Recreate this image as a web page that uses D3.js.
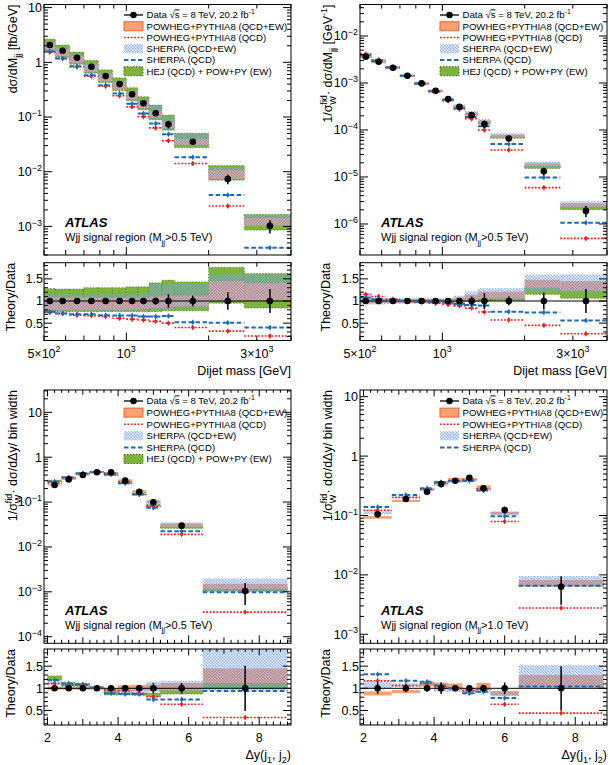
<!DOCTYPE html>
<html><head><meta charset="utf-8">
<script src="https://cdn.jsdelivr.net/npm/d3@7/dist/d3.min.js"></script>
<style>
body{margin:0;background:#fff}
svg text{font-family:"Liberation Sans",Arial,Helvetica,sans-serif;fill:#000}
</style></head>
<body><svg id="chart" width="610" height="765"></svg>
<script>
// ================= DATA =================
const mjjEdges = [500,550,620,700,790,890,1000,1100,1210,1350,1500,2000,2700,4000];
const dyEdges05 = [2.0,2.4,2.8,3.2,3.6,4.0,4.4,4.8,5.2,6.4,8.8];
const dyEdges10 = [2.0,2.8,3.6,4.0,4.4,4.8,5.2,5.6,6.4,8.8];

// Panel A: dsigma/dMjj [fb/GeV]  (model values are ratios Theory/Data)
const mjjData   = [2.07,1.63,1.21,0.83,0.56,0.40,0.26,0.178,0.117,0.0736,0.0353,0.00736,0.00102];
const mjjErr    = [0.06,0.06,0.06,0.06,0.06,0.06,0.06,0.07,0.08,0.16,0.12,0.2,0.27];
const mjjPowEwLo= [0.80,0.80,0.80,0.80,0.80,0.80,0.80,0.82,0.84,0.85,0.88,1.0,1.02];
const mjjPowEwHi= [1.08,1.08,1.08,1.08,1.08,1.08,1.08,1.08,1.10,1.12,1.12,1.45,1.40];
const mjjPowQcd = [0.74,0.72,0.68,0.67,0.65,0.61,0.59,0.57,0.54,0.50,0.40,0.32,0.21];
const mjjSheEwLo= [0.78,0.78,0.78,0.78,0.78,0.78,0.78,0.78,0.80,0.80,0.85,1.0,1.02];
const mjjSheEwHi= [1.15,1.15,1.15,1.15,1.15,1.15,1.15,1.18,1.38,1.38,1.40,1.60,1.60];
const mjjSheQcd = [0.76,0.72,0.70,0.70,0.68,0.67,0.67,0.65,0.65,0.66,0.52,0.51,0.40];
const mjjHejLo  = [0.76,0.76,0.76,0.76,0.76,0.76,0.76,0.76,0.76,0.78,0.78,0.95,0.84];
const mjjHejHi  = [1.28,1.27,1.27,1.30,1.30,1.30,1.32,1.32,1.41,1.47,1.43,1.76,1.62];

// Panel B: 1/sigma dsigma/dMjj [GeV^-1]
const nmjjData   = [3.62e-3,2.83e-3,2.11e-3,1.43e-3,9.8e-4,6.82e-4,4.54e-4,3.11e-4,2.07e-4,1.33e-4,6.59e-5,1.32e-5,1.9e-6];
const nmjjErr    = [0.05,0.05,0.05,0.05,0.05,0.05,0.05,0.06,0.10,0.18,0.10,0.19,0.27];
const nmjjPowEwLo= [0.95,0.95,0.95,0.95,0.95,0.95,0.95,0.97,1.00,1.06,1.06,1.30,1.24];
const nmjjPowEwHi= [1.05,1.05,1.05,1.05,1.05,1.05,1.05,1.08,1.14,1.21,1.21,1.48,1.45];
const nmjjPowQcd = [1.15,1.10,1.04,1.00,0.98,0.95,0.92,0.89,0.84,0.75,0.57,0.45,0.26];
const nmjjSheEwLo= [0.92,0.92,0.94,0.94,0.94,0.94,0.94,0.97,1.02,1.05,1.05,1.20,1.20];
const nmjjSheEwHi= [1.08,1.08,1.06,1.06,1.06,1.06,1.06,1.12,1.22,1.29,1.29,1.60,1.60];
const nmjjSheQcd = [1.08,1.04,1.01,1.00,0.99,0.98,0.96,0.93,0.91,0.90,0.76,0.74,0.56];
const nmjjHejLo  = [0.97,0.97,0.97,0.97,0.97,0.97,0.97,0.97,0.99,1.00,1.01,1.15,1.06];
const nmjjHejHi  = [1.03,1.03,1.03,1.03,1.03,1.03,1.03,1.03,1.05,1.08,1.09,1.32,1.24];

// Panel C: 1/sigma dsigma/dDy, Mjj>0.5 TeV
const dy05Data   = [0.24,0.32,0.40,0.46,0.46,0.30,0.17,0.099,0.0298,0.00104];
const dy05Err    = [0.04,0.04,0.04,0.04,0.04,0.04,0.05,0.12,0.12,0.51];
const dy05PowEwLo= [0.97,0.97,0.97,0.97,0.93,0.95,0.95,0.95,0.95,1.12];
const dy05PowEwHi= [1.04,1.04,1.04,1.04,1.00,1.07,1.08,1.08,1.12,1.45];
const dy05PowQcd = [1.11,1.07,1.07,1.01,0.96,0.94,0.89,0.81,0.64,0.34];
const dy05SheEwLo= [1.08,1.03,1.03,0.98,0.88,0.88,0.90,0.92,0.95,0.95];
const dy05SheEwHi= [1.20,1.12,1.12,1.05,0.97,0.97,1.02,1.15,1.17,1.90];
const dy05SheQcd = [1.19,1.11,1.09,1.01,0.89,0.87,0.87,0.75,0.75,0.94];
const dy05HejLo  = [1.19,1.06,1.06,0.99,0.85,0.85,0.84,0.81,0.87,1.00];
const dy05HejHi  = [1.28,1.13,1.11,1.04,0.93,0.90,0.89,0.89,0.96,1.13];

// Panel D: 1/sigma dsigma/dDy, Mjj>1.0 TeV
const dy10Data   = [0.105,0.19,0.25,0.34,0.385,0.43,0.287,0.124,0.0063];
const dy10Err    = [0.13,0.09,0.07,0.13,0.06,0.07,0.08,0.13,0.50];
const dy10PowEwLo= [0.84,0.89,1.04,0.98,0.96,0.90,0.96,0.84,1.00];
const dy10PowEwHi= [0.93,0.96,1.15,1.13,1.11,1.00,1.12,0.94,1.30];
const dy10PowQcd = [1.17,1.06,1.11,1.04,1.00,0.94,0.98,0.64,0.44];
const dy10SheEwLo= [1.00,1.04,1.05,0.92,0.92,0.86,0.90,0.82,1.03];
const dy10SheEwHi= [1.17,1.11,1.15,1.06,1.04,0.96,1.00,0.92,1.52];
const dy10SheQcd = [1.32,1.17,1.15,1.07,1.00,0.89,0.92,0.78,1.04];

// tick labels
const mjjTickVals = [500,1000,3000];
const mjjTickLabels = [["5×10","2"],["10","3"],["3×10","3"]];
const dyTickVals = [2,4,6,8];
const ratioTickVals = [0.5,1,1.5];
const ratioTickLabels = ["0.5","1","1.5"];

const legendLabels = ["Data", "POWHEG+PYTHIA8 (QCD+EW)", "POWHEG+PYTHIA8 (QCD)", "SHERPA (QCD+EW)", "SHERPA (QCD)", "HEJ (QCD) + POW+PY (EW)"];

// ================= STYLE =================
const C_ORANGE='#f8a072', C_ORANGE_EDGE='#e06a32', C_GREEN='#7fb43c', C_GREEN_EDGE='#3b6a12',
      C_RED='#f01a1a', C_BLUE='#1e6bb0', C_HATCH='#5a8ee6';
const FS_TICK=12.5, FS_TITLE=12.5, FS_LEG=9.6;

const svg = d3.select('#chart');
const defs = svg.append('defs');
const pat = defs.append('pattern').attr('id','hatch').attr('patternUnits','userSpaceOnUse').attr('width',3).attr('height',3);
pat.append('rect').attr('width',3).attr('height',3).attr('fill','#d4e2f8').attr('fill-opacity',0.15);
pat.append('rect').attr('x',0).attr('y',0).attr('width',1.5).attr('height',1.5).attr('fill',C_HATCH).attr('fill-opacity',0.7);
pat.append('rect').attr('x',1.5).attr('y',1.5).attr('width',1.5).attr('height',1.5).attr('fill',C_HATCH).attr('fill-opacity',0.7);

function rich(t, parts, fs){
  let cur=0;
  parts.forEach(p=>{
    const s = (typeof p==='string')?{t:p}:p;
    const target = s.sub? fs*0.32 : s.sup? -fs*0.42 : 0;
    const ts = t.append('tspan').text(s.t).attr('dy',(target-cur).toFixed(2));
    if(s.dx) ts.attr('dx',s.dx);
    if(s.sub||s.sup) ts.attr('font-size',(fs*0.72).toFixed(1));
    if(s.over) ts.attr('text-decoration','overline');
    cur=target;
  });
}

function expLabel(e){
  if(e===0) return ["1"];
  if(e===1) return ["10"];
  return ["10",{t:(e<0?"−":"")+Math.abs(e),sup:true}];
}

const panels = [
 {id:'A', x0:44, x1:291, mTop:4.5, mBot:255, rTop:262.7, rBot:340.5, xLog:true, xDom:[500,4000],
  yExp:[-3.523,1.057], rDom:[0.108,1.865], edges:mjjEdges, data:mjjData, err:mjjErr,
  pow:[mjjPowEwLo,mjjPowEwHi], powQcd:mjjPowQcd, she:[mjjSheEwLo,mjjSheEwHi], sheQcd:mjjSheQcd, hej:[mjjHejLo,mjjHejHi],
  legX:124, legY:15, legDy:11.25, atlasY:227.3, regionY:241, region:"0.5",
  yTitle:["dσ/dM",{t:"jj",sub:true}," [fb/GeV]"], titleX:17, xTitle:["Dijet mass [GeV]"], tickY:357.5, xTitleY:375},
 {id:'B', x0:360, x1:607, mTop:4.5, mBot:255, rTop:262.7, rBot:340.5, xLog:true, xDom:[500,4000],
  yExp:[-6.66,-1.33], rDom:[0.108,1.865], edges:mjjEdges, data:nmjjData, err:nmjjErr,
  pow:[nmjjPowEwLo,nmjjPowEwHi], powQcd:nmjjPowQcd, she:[nmjjSheEwLo,nmjjSheEwHi], sheQcd:nmjjSheQcd, hej:[nmjjHejLo,nmjjHejHi],
  legX:440, legY:15, legDy:11.25, atlasY:227.3, regionY:241, region:"0.5",
  yTitle:["1/σ",{t:"W",sub:true},{t:"fid",sup:true,dx:-8.5},"· dσ/dM",{t:"jj",sub:true}," [GeV",{t:"-1",sup:true},"]"], titleX:332,
  xTitle:["Dijet mass [GeV]"], tickY:357.5, xTitleY:375},
 {id:'C', x0:44, x1:291, mTop:390, mBot:643.3, rTop:649, rBot:725, xLog:false, xDom:[1.9,8.9],
  yExp:[-4.147,1.497], rDom:[0.172,1.887], edges:dyEdges05, data:dy05Data, err:dy05Err,
  pow:[dy05PowEwLo,dy05PowEwHi], powQcd:dy05PowQcd, she:[dy05SheEwLo,dy05SheEwHi], sheQcd:dy05SheQcd, hej:[dy05HejLo,dy05HejHi],
  legX:124, legY:401, legDy:11.6, atlasY:614.6, regionY:628.6, region:"0.5",
  yTitle:["1/σ",{t:"W",sub:true},{t:"fid",sup:true,dx:-8.5},"· dσ/dΔy/ bin width"], titleX:17,
  xTitle:["Δy(j",{t:"1",sub:true},", j",{t:"2",sub:true},")"], tickY:742, xTitleY:759},
 {id:'D', x0:360, x1:607, mTop:390, mBot:643.3, rTop:649, rBot:725, xLog:false, xDom:[1.9,8.9],
  yExp:[-3.152,1.113], rDom:[0.172,1.887], edges:dyEdges10, data:dy10Data, err:dy10Err,
  pow:[dy10PowEwLo,dy10PowEwHi], powQcd:dy10PowQcd, she:[dy10SheEwLo,dy10SheEwHi], sheQcd:dy10SheQcd, hej:null,
  legX:440, legY:401, legDy:11.6, atlasY:614.6, regionY:628.6, region:"1.0",
  yTitle:["1/σ",{t:"W",sub:true},{t:"fid",sup:true,dx:-8.5},"· dσ/dΔy/ bin width"], titleX:332,
  xTitle:["Δy(j",{t:"1",sub:true},", j",{t:"2",sub:true},")"], tickY:742, xTitleY:759}
];

function drawPanel(p){
  const g = svg.append('g');
  const x = p.xLog ? d3.scaleLog().domain(p.xDom).range([p.x0,p.x1]) : d3.scaleLinear().domain(p.xDom).range([p.x0,p.x1]);
  const y = d3.scaleLog().domain([Math.pow(10,p.yExp[0]),Math.pow(10,p.yExp[1])]).range([p.mBot,p.mTop]);
  const r = d3.scaleLinear().domain(p.rDom).range([p.rBot,p.rTop]);
  defs.append('clipPath').attr('id','cm'+p.id).append('rect').attr('x',p.x0).attr('y',p.mTop).attr('width',p.x1-p.x0).attr('height',p.mBot-p.mTop);
  defs.append('clipPath').attr('id','cr'+p.id).append('rect').attr('x',p.x0).attr('y',p.rTop).attr('width',p.x1-p.x0).attr('height',p.rBot-p.rTop);
  const gm = g.append('g').attr('clip-path',`url(#cm${p.id})`);
  const gr = g.append('g').attr('clip-path',`url(#cr${p.id})`);
  const bins = p.data.map((v,i)=>({i, lo:p.edges[i], hi:p.edges[i+1], c:(p.edges[i]+p.edges[i+1])/2, v, e:p.err[i]}));

  const bands=[];
  if(p.hej) bands.push({lo:p.hej[0],hi:p.hej[1],fill:C_GREEN,stroke:C_GREEN_EDGE,dash:'1.5,1.5'});
  bands.push({lo:p.pow[0],hi:p.pow[1],fill:C_ORANGE});
  bands.push({lo:p.she[0],hi:p.she[1],fill:'url(#hatch)'});

  const layers = [[gm,(d,k)=>y(d.v*k)],[gr,(d,k)=>r(k)]];
  bands.forEach(b=>{
    layers.forEach(([gg,f])=>{
      gg.append('g').selectAll('rect').data(bins).join('rect')
        .attr('x',d=>x(d.lo)).attr('width',d=>x(d.hi)-x(d.lo))
        .attr('y',d=>f(d,b.hi[d.i])).attr('height',d=>Math.max(0.5,f(d,b.lo[d.i])-f(d,b.hi[d.i])))
        .attr('fill',b.fill)
        .attr('stroke',b.stroke||'none').attr('stroke-width',0.8).attr('stroke-dasharray',b.dash||null).attr('stroke-opacity',0.7);
    });
  });
  // unity line
  gr.append('line').attr('x1',p.x0).attr('x2',p.x1).attr('y1',r(1)).attr('y2',r(1)).attr('stroke','#000').attr('stroke-width',1);

  const lines=[{vals:p.powQcd,color:C_RED,dash:'1.8,1.6',w:1.6},{vals:p.sheQcd,color:C_BLUE,dash:'4.5,2.5',w:2}];
  lines.forEach(L=>{
    layers.forEach(([gg,f])=>{
      const gl=gg.append('g');
      gl.selectAll('line.h').data(bins).join('line').attr('class','h')
        .attr('x1',d=>x(d.lo)).attr('x2',d=>x(d.hi)).attr('y1',d=>f(d,L.vals[d.i])).attr('y2',d=>f(d,L.vals[d.i]))
        .attr('stroke',L.color).attr('stroke-width',L.w).attr('stroke-dasharray',L.dash);
      gl.selectAll('line.v').data(bins).join('line').attr('class','v')
        .attr('x1',d=>x(d.c)).attr('x2',d=>x(d.c)).attr('y1',d=>f(d,L.vals[d.i])-2.5).attr('y2',d=>f(d,L.vals[d.i])+2.5)
        .attr('stroke',L.color).attr('stroke-width',1.2);
      gl.selectAll('circle').data(bins).join('circle')
        .attr('cx',d=>x(d.c)).attr('cy',d=>f(d,L.vals[d.i])).attr('r',1.7).attr('fill',L.color);
    });
  });

  // data
  layers.forEach(([gg,f])=>{
    const gd=gg.append('g');
    gd.selectAll('line').data(bins).join('line')
      .attr('x1',d=>x(d.c)).attr('x2',d=>x(d.c)).attr('y1',d=>f(d,1+d.e)).attr('y2',d=>f(d,Math.max(0.01,1-d.e)))
      .attr('stroke','#000').attr('stroke-width',1.5);
    gd.selectAll('circle').data(bins).join('circle')
      .attr('cx',d=>x(d.c)).attr('cy',d=>f(d,1)).attr('r',3.3).attr('fill','#000');
  });

  // frames
  [[p.mTop,p.mBot],[p.rTop,p.rBot]].forEach(([t,b])=>{
    g.append('rect').attr('x',p.x0).attr('y',t).attr('width',p.x1-p.x0).attr('height',b-t)
      .attr('fill','none').attr('stroke','#000').attr('stroke-width',1);
  });

  const ax = g.append('g').attr('stroke','#000').attr('stroke-width',1);
  // x ticks
  let xt=[];
  if(p.xLog){
    for(let e=2;e<=3;e++) for(let m=1;m<10;m++){ const v=m*Math.pow(10,e); if(v<p.xDom[0]||v>p.xDom[1]) continue; xt.push({v,len:(m===1)?8:5}); }
  } else {
    for(let k=Math.ceil(p.xDom[0]*5);k<=Math.floor(p.xDom[1]*5);k++){ const v=k/5; const isMaj=(k%10===0); const isMid=(k%5===0); xt.push({v,len:isMaj?8:(isMid?6:3.5)}); }
  }
  [[p.mTop,p.mBot],[p.rTop,p.rBot]].forEach(([t,b])=>{
    ax.selectAll(null).data(xt).join('line').attr('x1',d=>x(d.v)).attr('x2',d=>x(d.v)).attr('y1',b).attr('y2',d=>b-d.len);
    ax.selectAll(null).data(xt).join('line').attr('x1',d=>x(d.v)).attr('x2',d=>x(d.v)).attr('y1',t).attr('y2',d=>t+d.len*0.8);
  });
  // main y ticks
  const yt=[];
  for(let e=Math.floor(p.yExp[0]);e<=Math.ceil(p.yExp[1]);e++) for(let m=1;m<10;m++){
    const v=m*Math.pow(10,e), lv=Math.log10(v); if(lv<p.yExp[0]||lv>p.yExp[1]) continue; yt.push({v,len:m===1?8:4,e,m});
  }
  ax.selectAll(null).data(yt).join('line').attr('x1',p.x0).attr('x2',d=>p.x0+d.len).attr('y1',d=>y(d.v)).attr('y2',d=>y(d.v));
  ax.selectAll(null).data(yt).join('line').attr('x1',p.x1).attr('x2',d=>p.x1-d.len).attr('y1',d=>y(d.v)).attr('y2',d=>y(d.v));
  yt.filter(d=>d.m===1).forEach(d=>{
    const t=g.append('text').attr('x',p.x0-2).attr('y',y(d.v)+4.4).attr('text-anchor','end').attr('font-size',FS_TICK);
    rich(t,expLabel(d.e),FS_TICK);
  });
  // ratio y ticks
  const rt=[];
  for(let k=Math.ceil(p.rDom[0]*10);k<=Math.floor(p.rDom[1]*10);k++) rt.push({v:k/10,len:(k%5===0)?8:4});
  ax.selectAll(null).data(rt).join('line').attr('x1',p.x0).attr('x2',d=>p.x0+d.len).attr('y1',d=>r(d.v)).attr('y2',d=>r(d.v));
  ax.selectAll(null).data(rt).join('line').attr('x1',p.x1).attr('x2',d=>p.x1-d.len).attr('y1',d=>r(d.v)).attr('y2',d=>r(d.v));
  ratioTickVals.forEach((v,i)=>{
    g.append('text').attr('x',p.x0-1).attr('y',r(v)+4.4).attr('text-anchor','end').attr('font-size',FS_TICK).text(ratioTickLabels[i]);
  });
  // x tick labels
  if(p.xLog){
    mjjTickVals.forEach((v,i)=>{
      const t=g.append('text').attr('x',x(v)).attr('y',p.tickY).attr('text-anchor','middle').attr('font-size',FS_TICK);
      rich(t,[mjjTickLabels[i][0],{t:mjjTickLabels[i][1],sup:true}],FS_TICK);
    });
  } else {
    dyTickVals.forEach(v=>{
      g.append('text').attr('x',x(v)).attr('y',p.tickY).attr('text-anchor','middle').attr('font-size',FS_TICK).text(v);
    });
  }
  // titles
  const xtTxt=g.append('text').attr('x',p.x1).attr('y',p.xTitleY).attr('text-anchor','end').attr('font-size',FS_TITLE);
  rich(xtTxt,p.xTitle,FS_TITLE);
  const ytTxt=g.append('text').attr('transform',`translate(${p.titleX},${p.mTop})rotate(-90)`).attr('text-anchor','end').attr('font-size',FS_TITLE);
  rich(ytTxt,p.yTitle,FS_TITLE);
  g.append('text').attr('transform',`translate(${p.titleX-2.5},${p.rTop})rotate(-90)`).attr('text-anchor','end').attr('font-size',FS_TITLE).text('Theory/Data');

  // ATLAS labels
  g.append('text').attr('x',p.x0+21).attr('y',p.atlasY).attr('font-size',13).attr('font-weight','bold').attr('font-style','italic').text('ATLAS');
  const rg=g.append('text').attr('x',p.x0+21).attr('y',p.regionY).attr('font-size',11);
  rich(rg,["Wjj signal region (M",{t:"jj",sub:true},">"+p.region+" TeV)"],11);

  // legend
  const lg=g.append('g');
  const nLeg = p.hej?6:5;
  for(let k=0;k<nLeg;k++){
    const yy=p.legY+k*p.legDy, x0=p.legX, x1=p.legX+19;
    if(k===0){
      lg.append('line').attr('x1',x0).attr('x2',x1).attr('y1',yy).attr('y2',yy).attr('stroke','#000').attr('stroke-width',1.3);
      lg.append('circle').attr('cx',(x0+x1)/2).attr('cy',yy).attr('r',3.2).attr('fill','#000');
    } else if(k===1){
      lg.append('rect').attr('x',x0).attr('y',yy-4.5).attr('width',19).attr('height',9).attr('fill',C_ORANGE).attr('stroke',C_ORANGE_EDGE).attr('stroke-width',1);
    } else if(k===2){
      lg.append('line').attr('x1',x0).attr('x2',x1).attr('y1',yy).attr('y2',yy).attr('stroke',C_RED).attr('stroke-width',1.6).attr('stroke-dasharray','1.8,1.6');
    } else if(k===3){
      lg.append('rect').attr('x',x0).attr('y',yy-4.5).attr('width',19).attr('height',9).attr('fill','url(#hatch)');
    } else if(k===4){
      lg.append('line').attr('x1',x0).attr('x2',x1).attr('y1',yy).attr('y2',yy).attr('stroke',C_BLUE).attr('stroke-width',2).attr('stroke-dasharray','4.5,2.5');
    } else {
      lg.append('rect').attr('x',x0).attr('y',yy-4.5).attr('width',19).attr('height',9).attr('fill',C_GREEN).attr('stroke',C_GREEN_EDGE).attr('stroke-width',1).attr('stroke-dasharray','1.5,1.5');
    }
    const t=lg.append('text').attr('x',p.legX+22.5).attr('y',yy+3.4).attr('font-size',FS_LEG);
    if(k===0) rich(t,["Data ","√",{t:"s",over:true}," = 8 TeV, 20.2 fb",{t:"-1",sup:true}],FS_LEG);
    else t.text(legendLabels[k]);
  }
}

panels.forEach(drawPanel);
</script></body></html>
